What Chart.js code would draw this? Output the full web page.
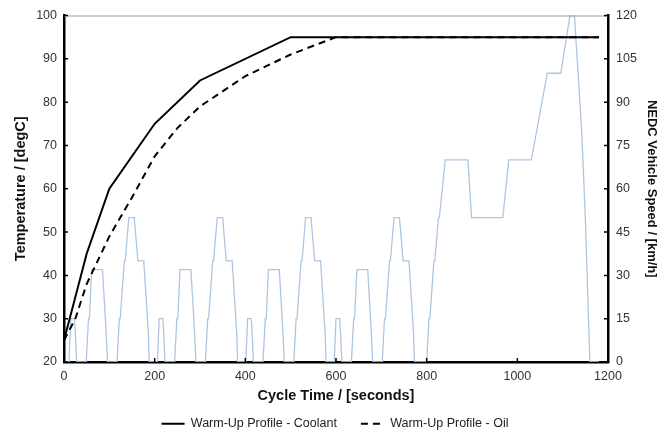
<!DOCTYPE html>
<html><head><meta charset="utf-8">
<script src="https://cdn.jsdelivr.net/npm/chart.js@4"></script>
<style>html,body{margin:0;padding:0;background:#fff}#wrap{width:670px;height:435px;position:relative}</style>
</head><body><div id="wrap"><canvas id="c" width="670" height="435"></canvas></div>
<script>
// Warm-up profiles (cycle time s, temperature degC)
const coolantTime = [0, 50, 100, 200, 300, 500, 1180];
const coolantTemp = [25, 45, 60, 75, 85, 95, 95];
const oilTime = [0, 25, 50, 100, 150, 200, 250, 300, 400, 500, 600, 1180];
const oilTemp = [25, 30, 38, 49, 58, 67.5, 74, 79, 86, 91, 95, 95];
// NEDC vehicle speed (cycle time s, km/h)
const speedTime = [0,
 11,15,23,25,28,49,54,56,61,85,93,96,117,122,124,133,135,143,155,163,176,186,188,195,
 206,210,218,220,223,244,249,251,256,280,288,291,312,317,319,328,330,338,350,358,371,381,383,390,
 401,405,413,415,418,439,444,446,451,475,483,486,507,512,514,523,525,533,545,553,566,576,578,585,
 596,600,608,610,613,634,639,641,646,670,678,681,702,707,709,718,720,728,740,748,761,771,773,780,
 800,805,807,816,818,826,828,841,891,899,968,981,1031,1066,1096,1116,1126,1142,1150,1160,1180];
const speedKmh = [0,
 0,15,15,10,0,0,15,15,32,32,10,0,0,15,15,35,35,50,50,35,35,10,0,0,
 0,15,15,10,0,0,15,15,32,32,10,0,0,15,15,35,35,50,50,35,35,10,0,0,
 0,15,15,10,0,0,15,15,32,32,10,0,0,15,15,35,35,50,50,35,35,10,0,0,
 0,15,15,10,0,0,15,15,32,32,10,0,0,15,15,35,35,50,50,35,35,10,0,0,
 0,15,15,35,35,50,50,70,70,50,50,70,70,100,100,120,120,80,50,0,0];
const xTicks = [0, 200, 400, 600, 800, 1000, 1200];
const tempTicks = [20, 30, 40, 50, 60, 70, 80, 90, 100];
const speedTicks = [0, 15, 30, 45, 60, 75, 90, 105, 120];
const labels = ['Warm-Up Profile - Coolant', 'Warm-Up Profile - Oil', 'NEDC Vehicle Speed'];

const pts = (xs, ys) => xs.map((x, i) => ({x, y: ys[i]}));
const FONT = 'Liberation Sans, Arial, sans-serif';

const frame = {
  id: 'frame',
  afterDatasetsDraw(chart) {
    const {ctx, chartArea: a, scales} = chart;
    ctx.save();
    ctx.strokeStyle = '#9a9a9a'; ctx.lineWidth = 1;
    ctx.beginPath(); ctx.moveTo(a.left, a.top + 0.5); ctx.lineTo(a.right, a.top + 0.5); ctx.stroke();
    ctx.strokeStyle = '#000'; ctx.lineWidth = 1.5;
    ctx.beginPath();
    scales.y.ticks.forEach(t => { const p = scales.y.getPixelForValue(t.value); ctx.moveTo(a.left, p); ctx.lineTo(a.left + 4, p); });
    scales.y2.ticks.forEach(t => { const p = scales.y2.getPixelForValue(t.value); ctx.moveTo(a.right, p); ctx.lineTo(a.right - 4, p); });
    scales.x.ticks.forEach(t => { const p = scales.x.getPixelForValue(t.value); ctx.moveTo(p, a.bottom); ctx.lineTo(p, a.bottom - 4); });
    ctx.stroke();
    ctx.restore();
  }
};

new Chart(document.getElementById('c'), {
  type: 'line',
  data: {
    datasets: [
      {label: labels[0], data: pts(coolantTime, coolantTemp), yAxisID: 'y', borderColor: '#000', borderWidth: 2, pointRadius: 0, pointStyle: 'line', tension: 0},
      {label: labels[1], data: pts(oilTime, oilTemp), yAxisID: 'y', borderColor: '#000', borderWidth: 2, borderDash: [7, 5], pointRadius: 0, pointStyle: 'line', tension: 0},
      {label: labels[2], data: pts(speedTime, speedKmh), yAxisID: 'y2', borderColor: '#aec6e2', borderWidth: 1.3, pointRadius: 0, tension: 0}
    ]
  },
  options: {
    responsive: false, animation: false,
    layout: {padding: {top: 15, left: 0, right: 0, bottom: -5}},
    plugins: {
      tooltip: {enabled: false},
      legend: {
        position: 'bottom',
        labels: {
          filter: item => item.datasetIndex < 2,
          generateLabels: chart => Chart.defaults.plugins.legend.labels.generateLabels(chart).map(l => {
            const ds = chart.data.datasets[l.datasetIndex];
            return Object.assign(l, {lineDash: ds.borderDash || [], lineWidth: 2, strokeStyle: '#000', fillStyle: '#000', pointStyle: 'line'});
          }),
          usePointStyle: true, pointStyleWidth: 23, boxHeight: 12,
          padding: 24, color: '#222', font: {family: FONT, size: 12.5}
        }
      }
    },
    scales: {
      x: {
        type: 'linear', min: 0, max: 1200,
        afterBuildTicks: s => { s.ticks = xTicks.map(v => ({value: v})); },
        grid: {display: false, drawTicks: false},
        border: {display: true, color: '#000', width: 2.5},
        ticks: {color: '#333', font: {family: FONT, size: 12.5}, padding: 7, callback: v => String(v)},
        title: {display: true, text: 'Cycle Time / [seconds]', color: '#111', font: {family: FONT, size: 14.5, weight: 'bold'}, padding: {top: 0, bottom: -11}},
        afterFit: s => { s.height = 31.5; }
      },
      y: {
        type: 'linear', position: 'left', min: 20, max: 100,
        afterBuildTicks: s => { s.ticks = tempTicks.map(v => ({value: v})); },
        grid: {display: false, drawTicks: false},
        border: {display: true, color: '#000', width: 2.5},
        ticks: {color: '#333', font: {family: FONT, size: 12.5}, padding: 7, callback: v => String(v)},
        title: {display: true, text: 'Temperature / [degC]', color: '#111', font: {family: FONT, size: 14.5, weight: 'bold'}, padding: {top: 12, bottom: 0}},
        afterFit: s => { s.width = 64; }
      },
      y2: {
        type: 'linear', position: 'right', min: 0, max: 120,
        afterBuildTicks: s => { s.ticks = speedTicks.map(v => ({value: v})); },
        grid: {display: false, drawTicks: false},
        border: {display: true, color: '#000', width: 2.5},
        ticks: {color: '#333', font: {family: FONT, size: 12.5}, padding: 8, callback: v => String(v)},
        title: {display: true, text: 'NEDC Vehicle Speed / [km/h]', color: '#111', font: {family: FONT, size: 13, weight: 'bold'}, padding: {top: 11, bottom: 0}},
        afterFit: s => { s.width = 62; }
      }
    }
  },
  plugins: [frame]
});
</script></body></html>
